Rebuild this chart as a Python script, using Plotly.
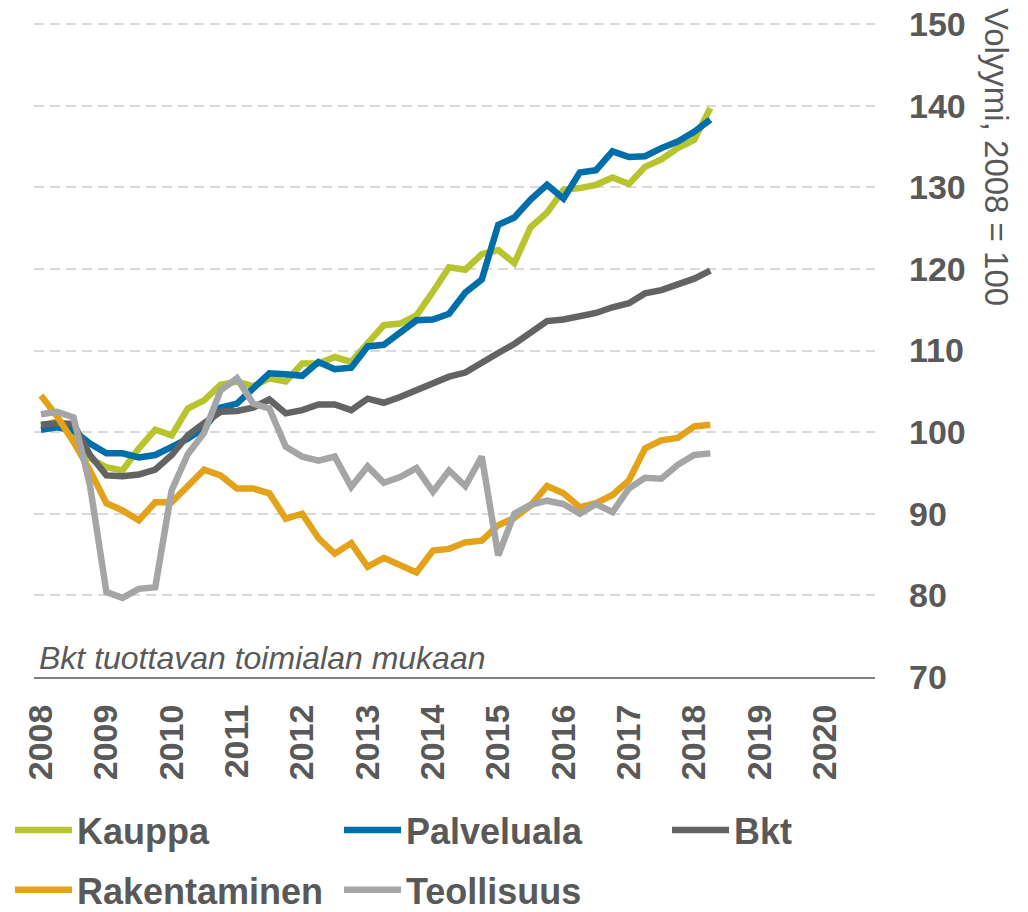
import plotly.graph_objects as go

# Quarterly periods 2008Q1 .. 2018Q2
quarters = [f"{y}-{m:02d}-01" for y in range(2008, 2019) for m in (1, 4, 7, 10)][:42]

kauppa = [100.8, 101.3, 99.3, 96.8, 95.7, 95.3, 98.0, 100.3, 99.6, 102.9,
          103.9, 105.8, 106.2, 105.6, 106.6, 106.2, 108.4, 108.4, 109.2, 108.6,
          110.9, 113.1, 113.3, 114.3, 117.2, 120.2, 119.9, 121.8, 122.3, 120.7,
          125.1, 126.9, 129.7, 129.9, 130.3, 131.2, 130.4, 132.5, 133.4, 134.8,
          135.8, 139.7]
palveluala = [100.3, 100.6, 100.2, 98.6, 97.4, 97.4, 96.9, 97.2, 98.2, 99.2,
              100.5, 103.0, 103.5, 105.4, 107.2, 107.1, 106.9, 108.6, 107.7, 107.9,
              110.5, 110.7, 112.3, 113.7, 113.8, 114.5, 117.1, 118.7, 125.4, 126.3,
              128.5, 130.3, 128.6, 131.8, 132.1, 134.4, 133.7, 133.8, 134.8, 135.6,
              136.8, 138.3]
bkt = [100.9, 101.1, 101.0, 97.2, 94.7, 94.6, 94.8, 95.4, 97.2, 99.6,
       101.1, 102.5, 102.6, 103.0, 104.0, 102.3, 102.7, 103.4, 103.4, 102.7,
       104.1, 103.6, 104.3, 105.1, 105.9, 106.8, 107.3, 108.6, 109.7, 110.8,
       112.3, 113.6, 113.8, 114.1, 114.6, 115.3, 115.8, 117.0, 117.4, 118.1,
       118.8, 119.8]
rakentaminen = [104.5, 101.9, 98.8, 95.3, 91.3, 90.4, 89.2, 91.4, 91.4, 93.4,
                95.4, 94.7, 93.1, 93.1, 92.5, 89.4, 90.0, 87.0, 85.1, 86.4,
                83.5, 84.6, 83.6, 82.8, 85.5, 85.7, 86.5, 86.7, 88.6, 89.5,
                91.0, 93.4, 92.5, 90.8, 91.3, 92.3, 94.1, 98.0, 99.0, 99.3,
                100.7, 100.9]
teollisuus = [102.2, 102.5, 101.8, 93.5, 80.4, 79.7, 80.8, 81.0, 92.9, 97.3,
              99.9, 105.1, 106.6, 103.5, 102.9, 98.2, 97.0, 96.5, 97.0, 93.3,
              95.8, 93.8, 94.5, 95.6, 92.7, 95.3, 93.4, 97.0, 84.9, 90.0,
              91.1, 91.6, 91.2, 90.0, 91.2, 90.2, 93.1, 94.4, 94.3, 96.0,
              97.2, 97.4]

series_names = ["Kauppa", "Palveluala", "Bkt", "Rakentaminen", "Teollisuus"]
series_values = [kauppa, palveluala, bkt, rakentaminen, teollisuus]
series_colors = ["#b7c42e", "#006eab", "#636363", "#e3a21a", "#a4a5a7"]
series_legend = ["legend", "legend2", "legend3", "legend", "legend2"]

year_ticks = [f"{y}-01-01" for y in range(2008, 2021)]
year_labels = [str(y) for y in range(2008, 2021)]
y_ticks = [70, 80, 90, 100, 110, 120, 130, 140, 150]

TXT = "#595959"
FONT = "Liberation Sans, Arial, sans-serif"
W, H = 1028, 912

fig = go.Figure()
for name, vals, col, lg in zip(series_names, series_values, series_colors, series_legend):
    fig.add_trace(go.Scatter(
        x=quarters, y=vals, name=name, mode="lines",
        line=dict(color=col, width=6.5),
        legend=lg, legendgroup=name,
    ))

def legend_box(xpx):
    return dict(
        orientation="v",
        xref="container", yref="container",
        x=xpx / W, y=1 - 800 / H,
        xanchor="left", yanchor="top",
        font=dict(size=36, color=TXT, family=FONT, weight="bold"),
        itemwidth=57,
        tracegroupgap=10,
        traceorder="grouped",
        bgcolor="rgba(0,0,0,0)",
    )

fig.update_layout(
    width=W, height=H,
    margin=dict(l=34, r=153, t=22, b=235, autoexpand=False),
    plot_bgcolor="white", paper_bgcolor="white",
    font=dict(family=FONT, color=TXT),
    showlegend=True,
    legend=legend_box(10),
    legend2=legend_box(339),
    legend3=legend_box(667),
    xaxis=dict(
        type="date",
        range=["2007-11-23", "2020-10-08"],
        tickvals=year_ticks, ticktext=year_labels,
        tickangle=-90,
        tickfont=dict(size=34, color=TXT, family=FONT, weight="bold"),
        showgrid=False, zeroline=False,
        showline=True, linecolor="#808080", linewidth=2,
        ticks="outside", ticklen=0,
        ticklabelstandoff=12,
    ),
    yaxis=dict(
        side="right",
        range=[70, 150.25],
        tickvals=y_ticks,
        tickfont=dict(size=34, color=TXT, family=FONT, weight="bold"),
        ticklabeloverflow="allow",
        showgrid=True, gridcolor="#d9d9d9", gridwidth=2, griddash="10px,6px",
        zeroline=False, showline=False,
        ticks="", ticklabelstandoff=33,
    ),
    annotations=[
        dict(
            text="Volyymi, 2008 = 100", textangle=90,
            xref="paper", yref="paper",
            x=(997 - 34) / 841, y=(677 - 157) / 655,
            xanchor="center", yanchor="middle",
            showarrow=False,
            font=dict(size=33, color=TXT, family=FONT),
        ),
        dict(
            text="<i>Bkt tuottavan toimialan mukaan</i>",
            xref="paper", yref="paper",
            x=3 / 841, y=(677 - 658) / 655,
            xanchor="left", yanchor="middle",
            showarrow=False,
            font=dict(size=32, color=TXT, family=FONT),
        ),
    ],
)

# remove the browser's default 8px body margin so the figure fills the window
fig.write_html("out.html",
               config={"displayModeBar": False},
               post_script="document.body.style.margin='0';document.body.style.overflow='hidden';")
